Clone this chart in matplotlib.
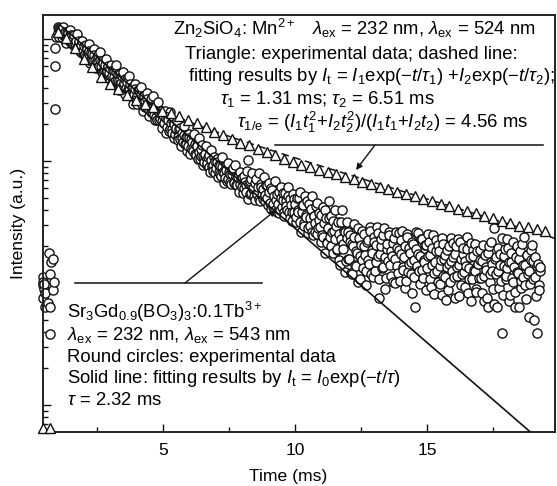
import numpy as np
import matplotlib
matplotlib.use("Agg")
import matplotlib.pyplot as plt
from matplotlib.ticker import LogLocator, NullFormatter, FixedLocator

plt.rcParams['font.family'] = ['Liberation Sans', 'DejaVu Sans']
plt.rcParams['mathtext.fontset'] = 'custom'
plt.rcParams['mathtext.rm'] = 'Liberation Sans'
plt.rcParams['mathtext.it'] = 'Liberation Sans:italic'
plt.rcParams['mathtext.bf'] = 'Liberation Sans:bold'
plt.rcParams['mathtext.sf'] = 'Liberation Sans'

# ---------------- data ----------------
# Zn2SiO4:Mn2+ decay, log10 of normalised intensity (triangles)
zn_time_ms = [0.45, 0.72,
              1.00, 1.33, 1.66, 1.99, 2.32, 2.65, 2.98, 3.31, 3.64, 3.97,
              4.30, 4.63, 4.96, 5.29, 5.62, 5.95, 6.28, 6.61, 6.94, 7.27,
              7.60, 7.93, 8.26, 8.59, 8.92, 9.25, 9.58, 9.91, 10.24, 10.57,
              10.90, 11.23, 11.56, 11.89, 12.22, 12.55, 12.88, 13.21, 13.54,
              13.87, 14.20, 14.53, 14.86, 15.19, 15.52, 15.85, 16.18, 16.51,
              16.84, 17.17, 17.50, 17.83, 18.16, 18.49, 18.82, 19.15, 19.48]
zn_log10_intensity = [-3.19, -3.19,
                      0.06, 0.01, -0.07, -0.16, -0.23, -0.31, -0.37, -0.41, -0.46, -0.50,
                      -0.53, -0.56, -0.59, -0.61, -0.63, -0.66, -0.69, -0.72, -0.76, -0.79,
                      -0.82, -0.85, -0.87, -0.90, -0.93, -0.95, -0.98, -1.01, -1.03, -1.05,
                      -1.07, -1.09, -1.11, -1.13, -1.15, -1.17, -1.19, -1.21, -1.23,
                      -1.25, -1.27, -1.29, -1.31, -1.33, -1.35, -1.37, -1.39, -1.41,
                      -1.43, -1.45, -1.47, -1.49, -1.51, -1.53, -1.54, -1.56, -1.57]

# Zn2SiO4:Mn2+ bi-exponential fit parameters
zn_i1, zn_tau1 = 1.40, 1.31
zn_i2, zn_tau2 = 0.49, 6.51

# Sr3Gd0.9(BO3)3:0.1Tb3+ points recorded while the excitation pulse is on
sr_early_time_ms = [0.45, 0.45, 0.45, 0.46, 0.47, 0.49, 0.53, 0.53, 0.64, 0.68,
                    0.72, 0.72, 0.72, 0.76, 0.83, 0.83, 0.87, 0.91, 0.91, 0.91, 0.95]
sr_early_log10 = [-1.95, -1.99, -2.12, -2.02, -2.05, -2.01, -2.08, -2.20, -2.16, -1.75,
                  -1.93, -2.20, -2.42, -1.83, -1.80, -2.06, -1.99, -0.57, -0.22, -0.07, 0.02]

# Sr3Gd0.9(BO3)3:0.1Tb3+ decay, two interleaved sweeps sampled every 0.05 ms
sr_sample_step_ms = 0.05

sr_decay_a_start_ms = 1.00
sr_decay_a_log10 = [
    0.05, 0.09, 0.08, 0.06, 0.09, 0.04, 0.06, 0.02, 0.05, 0.00,
    0.03, -0.02, 0.01, -0.05, -0.02, -0.07, -0.03, -0.09, -0.05, -0.11,
    -0.06, -0.12, -0.08, -0.13, -0.10, -0.16, -0.12, -0.17, -0.13, -0.20,
    -0.15, -0.19, -0.17, -0.22, -0.18, -0.25, -0.21, -0.27, -0.23, -0.28,
    -0.24, -0.30, -0.25, -0.31, -0.27, -0.34, -0.29, -0.33, -0.36, -0.30,
    -0.38, -0.33, -0.40, -0.35, -0.42, -0.37, -0.44, -0.39, -0.45, -0.41,
    -0.47, -0.42, -0.50, -0.45, -0.53, -0.47, -0.51, -0.56, -0.49, -0.58,
    -0.53, -0.60, -0.55, -0.62, -0.56, -0.64, -0.59, -0.66, -0.61, -0.67,
    -0.62, -0.69, -0.65, -0.72, -0.66, -0.74, -0.69, -0.77, -0.70, -0.78,
    -0.73, -0.80, -0.74, -0.82, -0.77, -0.84, -0.79, -0.86, -0.80, -0.88,
    -0.81, -0.89, -0.84, -0.92, -0.86, -0.95, -0.88, -0.93, -0.98, -0.90,
    -0.96, -1.01, -0.94, -1.03, -0.97, -1.05, -0.99, -1.04, -1.08, -1.00,
    -1.06, -1.01, -1.09, -1.04, -1.12, -1.05, -1.10, -1.14, -1.07, -1.15,
    -1.09, -1.17, -1.11, -1.06, -1.18, -1.12, -1.20, -1.13, -1.19, -1.15,
    -1.14, -1.22, -1.17, -1.25, -0.99, -1.19, -1.27, -1.15, -1.23, -1.29,
    -1.18, -1.26, -1.21, -1.31, -1.19, -1.28, -1.23, -1.33, -1.20, -1.30,
]
sr_decay_b_start_ms = 1.025
sr_decay_b_log10 = [
    0.10, 0.02, 0.07, 0.02, 0.10, 0.03, -0.03, 0.06, -0.01, 0.07,
    0.02, -0.04, 0.03, -0.03, 0.04, -0.07, -0.02, -0.11, -0.02, -0.10,
    -0.14, -0.05, -0.12, -0.04, -0.20, -0.11, -0.18, -0.08, -0.17, -0.24,
    -0.13, -0.22, -0.11, -0.27, -0.20, -0.27, -0.16, -0.26, -0.22, -0.33,
    -0.21, -0.37, -0.26, -0.34, -0.21, -0.33, -0.42, -0.29, -0.41, -0.27,
    -0.36, -0.45, -0.33, -0.42, -0.30, -0.47, -0.39, -0.53, -0.37, -0.49,
    -0.53, -0.42, -0.49, -0.39, -0.59, -0.47, -0.56, -0.44, -0.54, -0.63,
    -0.49, -0.60, -0.47, -0.66, -0.57, -0.66, -0.52, -0.65, -0.59, -0.73,
    -0.69, -0.59, -0.77, -0.65, -0.75, -0.60, -0.74, -0.67, -0.81, -0.74,
    -0.67, -0.83, -0.73, -0.88, -0.81, -0.71, -0.86, -0.80, -0.92, -0.78,
    -0.94, -0.82, -0.89, -0.78, -0.94, -0.87, -0.98, -0.81, -0.96, -0.87,
    -1.03, -0.96, -0.88, -1.02, -0.95, -1.09, -0.91, -1.03, -0.97, -1.10,
    -0.98, -1.13, -1.03, -1.11, -0.97, -1.09, -1.18, -1.04, -1.16, -1.02,
    -1.11, -1.19, -1.07, -1.16, -1.03, -1.20, -1.12, -1.25, -1.09, -1.21,
    -1.26, -1.12, -1.20, -1.08, -1.31, -1.16, -1.26, -1.10, -1.22, -1.32,
    -1.15, -1.27, -1.10, -1.33, -1.21, -1.31, -1.13, -1.28, -1.20, -1.36,
]

sr_tail_a_start_ms = 9.00
sr_tail_a_log10 = [
    -1.25, -1.34, -1.22, -1.38, -1.29, -1.40, -1.27, -1.35, -1.43, -1.30,
    -1.38, -1.26, -1.45, -1.33, -1.40, -1.29, -1.47, -1.36, -1.42, -1.31,
    -1.35, -1.46, -1.40, -1.30, -1.50, -1.42, -1.36, -1.53, -1.44, -1.33,
    -1.55, -1.47, -1.39, -1.58, -1.45, -1.51, -1.37, -1.60, -1.48, -1.54,
    -1.44, -1.62, -1.51, -1.40, -1.66, -1.55, -1.47, -1.70, -1.58, -1.49,
    -1.64, -1.53, -1.72, -1.60, -1.85, -1.50, -1.68, -1.57, -1.91, -1.63,
    -1.58, -1.80, -1.66, -1.93, -1.70, -1.62, -1.86, -1.75, -1.55, -1.97,
    -1.69, -1.81, -1.60, -1.77, -1.90, -1.65, -1.84, -1.57, -1.73, -1.95,
    -1.66, -1.83, -1.54, -1.78, -2.12, -1.70, -1.88, -1.61, -1.79, -1.96,
    -1.68, -1.58, -1.85, -1.74, -1.99, -1.63, -1.80, -1.71, -1.92, -1.59,
    -1.76, -1.57, -1.89, -1.70, -1.98, -1.62, -1.84, -1.75, -1.93, -1.66,
    -1.81, -2.20, -1.72, -1.59, -1.90, -1.78, -1.64, -1.96, -1.83, -1.69,
    -1.88, -1.60, -1.77, -2.03, -1.71, -1.92, -1.83, -1.65, -1.99, -1.74,
    -1.86, -2.10, -1.68, -1.80, -1.95, -1.73, -2.06, -1.84, -1.63, -1.90,
    -1.79, -2.12, -1.70, -1.94, -1.85, -1.66, -2.02, -1.76, -1.91, -1.82,
    -1.72, -2.08, -1.88, -1.67, -1.97, -1.78, -1.90, -2.05, -1.74, -1.84,
    -1.73, -1.96, -1.82, -2.15, -1.77, -1.89, -2.20, -1.70, -1.93, -1.84,
    -2.05, -1.55, -1.79, -2.20, -1.90, -1.76, -1.98, -2.41, -1.86, -1.72,
    -1.94, -1.64, -1.83, -2.10, -1.75, -1.99, -1.87, -2.20, -1.70, -1.92,
    -1.80, -2.04, -1.68, -1.95, -1.85, -2.13, -1.77, -1.90, -2.01, -1.73,
    -1.82, -2.30, -1.95, -2.41, -1.84, -2.06, -1.87,
]
sr_tail_b_start_ms = 9.025
sr_tail_b_log10 = [
    -1.18, -1.39, -1.24, -1.35, -1.16, -1.32, -1.42, -1.25, -1.40, -1.21,
    -1.32, -1.42, -1.26, -1.37, -1.21, -1.42, -1.31, -1.49, -1.27, -1.42,
    -1.50, -1.30, -1.42, -1.25, -1.58, -1.36, -1.51, -1.29, -1.46, -1.59,
    -1.35, -1.53, -1.29, -1.61, -1.45, -1.58, -1.34, -1.55, -1.43, -1.66,
    -1.61, -1.38, -1.75, -1.47, -1.67, -1.33, -1.62, -1.45, -1.75, -1.57,
    -1.40, -1.73, -1.50, -1.81, -1.64, -1.40, -1.72, -1.58, -1.82, -1.50,
    -1.80, -1.61, -1.92, -1.68, -1.52, -1.85, -1.74, -1.99, -1.63, -1.78,
    -1.57, -1.88, -1.70, -2.02, -1.66, -1.81, -1.54, -1.93, -1.75, -1.62,
    -1.90, -1.69, -1.59, -1.97, -1.76, -1.64, -1.87, -1.55, -2.05, -1.72,
    -1.82, -1.61, -1.94, -1.78, -1.67, -2.00, -1.58, -1.86, -1.73, -1.98,
    -1.65, -1.87, -1.79, -2.04, -1.60, -1.91, -1.71, -1.83, -2.08, -1.68,
    -1.95, -1.58, -1.86, -1.76, -2.01, -1.64, -1.89, -1.81, -1.69, -2.06,
    -1.78, -1.66, -1.97, -1.85, -1.61, -2.09, -1.74, -1.90, -1.69, -2.01,
    -1.81, -1.63, -1.94, -1.77, -2.14, -1.87, -1.70, -1.99, -1.82, -1.67,
    -1.95, -1.76, -1.87, -1.64, -2.11, -1.80, -1.93, -1.71, -2.03, -1.86,
    -1.62, -1.97, -1.79, -2.15, -1.73, -1.89, -1.68, -2.07, -1.84, -1.96,
    -1.81, -2.08, -1.69, -1.94, -1.87, -2.12, -1.75, -1.99, -1.66, -1.90,
    -2.17, -1.80, -1.93, -1.71, -2.04, -1.85, -1.63, -2.10, -1.78, -1.97,
    -1.88, -1.71, -2.15, -1.83, -1.96, -1.66, -2.07, -1.79, -1.91, -2.20,
    -1.74, -1.98, -1.85, -1.62, -2.02, -1.77, -1.93, -2.28, -1.81, -1.69,
    -1.97, -1.79, -2.11, -1.86, -2.02, -1.90,
]

# Sr3Gd0.9(BO3)3:0.1Tb3+ single-exponential fit parameters
sr_i0, sr_tau = 2.09, 2.32

# ---------------- figure ----------------
W, H = 557, 486
fig = plt.figure(figsize=(W / 100, H / 100), dpi=100)
ax = fig.add_axes([43 / W, 1 - 432 / H, 512 / W, 417 / H])


def fx(px):
    return px / W


def fy(py):
    return 1 - py / H


def sweep_times(start, values):
    return np.round(start + sr_sample_step_ms * np.arange(len(values)), 3)


ink = '#111111'

sr_t = np.concatenate([
    sr_early_time_ms,
    sweep_times(sr_decay_a_start_ms, sr_decay_a_log10),
    sweep_times(sr_decay_b_start_ms, sr_decay_b_log10),
    sweep_times(sr_tail_a_start_ms, sr_tail_a_log10),
    sweep_times(sr_tail_b_start_ms, sr_tail_b_log10),
])
sr_y = 10.0 ** np.concatenate([sr_early_log10, sr_decay_a_log10, sr_decay_b_log10,
                               sr_tail_a_log10, sr_tail_b_log10])
order = np.argsort(sr_t, kind='stable')

ax.plot(sr_t[order], sr_y[order], ls='none', marker='o', ms=6.6, mfc='white',
        mec=ink, mew=1.0, clip_on=False, zorder=2)

t_fit = np.linspace(1.1, 19.2, 300)
ax.plot(t_fit, sr_i0 * np.exp(-t_fit / sr_tau), color=ink, lw=1.2, zorder=3)

t_fit2 = np.linspace(1.0, 19.85, 300)
ax.plot(t_fit2, zn_i1 * np.exp(-t_fit2 / zn_tau1) + zn_i2 * np.exp(-t_fit2 / zn_tau2),
        color=ink, lw=1.1, ls=(0, (5, 3)), zorder=3)

ax.plot(zn_time_ms, 10.0 ** np.array(zn_log10_intensity), ls='none', marker='^',
        ms=7.0, mfc='white', mec=ink, mew=1.0, clip_on=False, zorder=4)

ax.set_xlim(0.45, 19.85)
ax.set_yscale('log')
ax.set_ylim(10 ** -3.221, 10 ** 0.197)

ax.xaxis.set_major_locator(FixedLocator([5, 10, 15]))
ax.xaxis.set_minor_locator(FixedLocator([2.5, 7.5, 12.5, 17.5]))
ax.yaxis.set_major_locator(LogLocator(base=10))
ax.yaxis.set_minor_locator(LogLocator(base=10, subs=np.arange(2, 10)))
ax.yaxis.set_major_formatter(NullFormatter())
ax.yaxis.set_minor_formatter(NullFormatter())
ax.tick_params(which='major', direction='in', length=5.8, width=1.0, color=ink,
               labelsize=12.6, pad=8, top=False, right=False)
ax.tick_params(which='minor', direction='in', length=3.6, width=1.0, color=ink,
               top=False, right=False)
for s in ax.spines.values():
    s.set_linewidth(1.4)
    s.set_color('#222222')

fig.text(fx(288), fy(476), 'Time (ms)', ha='center', va='center', fontsize=12.6)
fig.text(fx(18.5), fy(223), 'Intensity (a.u.)', ha='center', va='center',
         rotation=90, fontsize=12.6)

fs = 13.3
zn_lines = [
    (535, 35, r"Zn$_2$SiO$_4$: Mn$^{2+}$   $\lambda_{\rm ex}$ = 232 nm, $\lambda_{\rm ex}$ = 524 nm"),
    (518, 59, "Triangle: experimental data; dashed line:"),
    (555, 81, r"fitting results by $I_{\rm t}$ = $I_1$exp($-t/\tau_1$) +$I_2$exp($-t/\tau_2$);"),
    (435, 104, r"$\tau_1$ = 1.31 ms; $\tau_2$ = 6.51 ms"),
    (528, 128, r"$\tau_{\rm 1/e}$ = ($I_1t_1^2$+$I_2t_2^2$)/($I_1t_1$+$I_2t_2$) = 4.56 ms"),
]
for x, y, s in zn_lines:
    fig.text(fx(x), fy(y), s, ha='right', va='baseline', fontsize=fs)

sr_lines = [
    (318, r"Sr$_3$Gd$_{0.9}$(BO$_3$)$_3$:0.1Tb$^{3+}$"),
    (340, r"$\lambda_{\rm ex}$ = 232 nm, $\lambda_{\rm ex}$ = 543 nm"),
    (362, "Round circles: experimental data"),
    (383, r"Solid line: fitting results by $I_{\rm t}$ = $I_0$exp($-t/\tau$)"),
    (405, r"$\tau$ = 2.32 ms"),
]
for y, s in sr_lines:
    fig.text(fx(67), fy(y), s, ha='left', va='baseline', fontsize=fs)

# pointer lines
fig.add_artist(plt.Line2D([fx(275), fx(543)], [fy(145), fy(145)], color=ink, lw=1.1))
fig.add_artist(plt.Line2D([fx(75), fx(262)], [fy(283), fy(283)], color=ink, lw=1.1))
arrow = dict(arrowstyle='-|>', color=ink, lw=1.0, mutation_scale=9,
             shrinkA=0, shrinkB=0)
ax.annotate('', xy=(fx(356), fy(170)), xytext=(fx(375), fy(145)),
            xycoords='figure fraction', textcoords='figure fraction', arrowprops=arrow)
ax.annotate('', xy=(fx(276), fy(210)), xytext=(fx(185), fy(283)),
            xycoords='figure fraction', textcoords='figure fraction', arrowprops=arrow)

fig.savefig('out.png', dpi=100)
